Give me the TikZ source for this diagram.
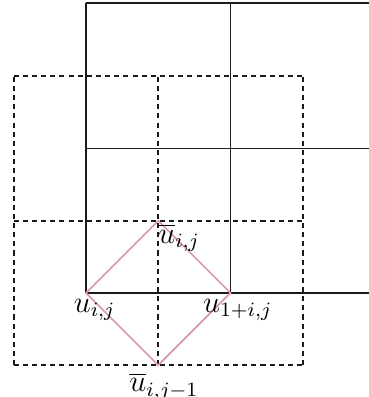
\documentclass[tikz,border=0pt]{standalone}
\usepackage{amsmath,amssymb}
\usepackage{tikz}
\usepackage{xcolor}
\usetikzlibrary{positioning,calc}
\definecolor{ink}{HTML}{1A1A1A}
\definecolor{stencil}{HTML}{D89AA4}
\tikzset{
  cellline/.style={draw=ink,line width=0.7pt},
  dualline/.style={draw=ink,line width=0.75pt,dash pattern=on 2pt off 1.6pt},
  stencilline/.style={draw=stencil,line width=0.65pt},
  ptlabel/.style={inner sep=1pt,font=\large}
}
\begin{document}
\begin{tikzpicture}[x=2cm,y=2cm]
  \path[use as bounding box] (-0.595,-0.72) rectangle (1.958,2.028);
  % primal cells
  \draw[cellline] (0,0) -- (1.958,0);
  \draw[cellline] (0,1) -- (1.958,1);
  \draw[cellline] (0,2.005) -- (1.958,2.005);
  \draw[cellline] (0,0) -- (0,2.005);
  \draw[cellline] (1,0) -- (1,2.005);
  % dual cells
  \foreach \k in {-0.5,0.5,1.5}{
    \draw[dualline] (-0.5,\k) -- (1.5,\k);
    \draw[dualline] (\k,-0.5) -- (\k,1.5);
  }
  % stencil points
  \coordinate (uw) at (0,0);
  \coordinate (ue) at (1,0);
  \coordinate (un) at (0.5,0.5);
  \coordinate (us) at (0.5,-0.5);
  \draw[stencilline] (uw) -- (un) -- (ue) -- (us) -- cycle;
  \node[ptlabel,anchor=north] (lw) at ($(uw)+(0.06,-0.02)$) {$u_{i,j}$};
  \node[ptlabel,anchor=north] (le) at ($(ue)+(0.05,-0.02)$) {$u_{1+i,j}$};
  \node[ptlabel,anchor=north west] (ln) at ($(un)+(-0.02,0.0)$) {$\overline{u}_{i,j}$};
  \node[ptlabel,anchor=north] (ls) at ($(us)+(0.04,-0.03)$) {$\overline{u}_{i,j-1}$};
\end{tikzpicture}
\end{document}
